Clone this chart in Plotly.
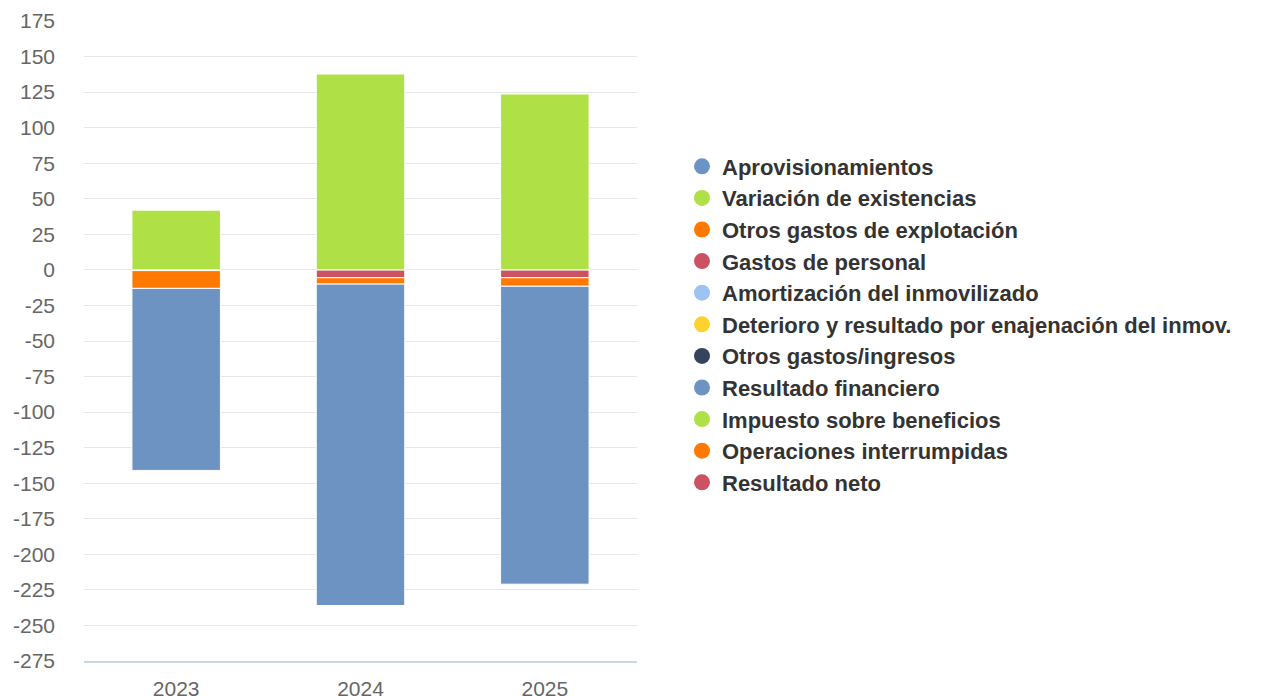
import plotly.graph_objects as go

years = ["2023", "2024", "2025"]

series_names = [
    "Aprovisionamientos",
    "Variación de existencias",
    "Otros gastos de explotación",
    "Gastos de personal",
    "Amortización del inmovilizado",
    "Deterioro y resultado por enajenación del inmov.",
    "Otros gastos/ingresos",
    "Resultado financiero",
    "Impuesto sobre beneficios",
    "Operaciones interrumpidas",
    "Resultado neto",
]

aprovisionamientos = [-128, -226, -209.5]
variacion_existencias = [42, 137.7, 123.7]
otros_gastos_explotacion = [-12.5, -4.5, -6]
gastos_personal = [-0.5, -5.5, -5.5]
amortizacion = [0, 0, 0]
deterioro = [0, 0, 0]
otros_gastos_ingresos = [0, 0, 0]
resultado_financiero = [0, 0, 0]
impuesto = [0, 0, 0]
operaciones_interrumpidas = [0, 0, 0]
resultado_neto = [0, 0, 0]

series_values = [
    aprovisionamientos, variacion_existencias, otros_gastos_explotacion,
    gastos_personal, amortizacion, deterioro, otros_gastos_ingresos,
    resultado_financiero, impuesto, operaciones_interrumpidas, resultado_neto,
]

colors = ["#6c93c2", "#afe045", "#ff7900", "#cc5162", "#9ec3f2", "#fdd22e",
          "#36435e", "#6c93c2", "#afe045", "#ff7900", "#cc5162"]

y_ticks = list(range(-275, 176, 25))
y_labels = [str(v) for v in y_ticks]  # plain hyphen, not the unicode minus

fig = go.Figure()

# highcharts stacks the first series furthest from zero, plotly the other way round
for name, vals, col in reversed(list(zip(series_names, series_values, colors))):
    fig.add_trace(go.Bar(x=years, y=vals, name=name, marker_color=col,
                         marker_line=dict(color="white", width=1),
                         showlegend=False))

# round legend markers
for name, col in zip(series_names, colors):
    fig.add_trace(go.Scatter(x=[None], y=[None], mode="markers", name=name,
                             marker=dict(color=col, size=24, symbol="circle")))

# page body has an 8px margin, so pull everything up/left a bit
L, T, PH, PW = 76, 13, 640, 553
W = 1280 - L
fig.update_layout(
    barmode="relative",
    bargap=0.52,
    width=1280, height=696,
    margin=dict(l=L, r=0, t=T, b=696 - T - PH, autoexpand=False),
    plot_bgcolor="white", paper_bgcolor="white",
    font=dict(family="Liberation Sans, Arial, sans-serif", size=21, color="#666666"),
    legend=dict(x=(674 - L) / W, xanchor="left", y=(T + PH - 316.5) / PH, yanchor="middle",
                font=dict(family="Liberation Sans, Arial, sans-serif", size=22,
                          color="#333333", weight="bold"),
                itemsizing="trace", traceorder="normal"),
    xaxis=dict(domain=[0, PW / W], showline=True, linecolor="#ccd6eb", linewidth=2,
               showgrid=False, ticks="", automargin=False, ticklabelstandoff=8,
               tickfont=dict(size=21, color="#666666")),
    yaxis=dict(range=[-275, 175], tickvals=y_ticks, ticktext=y_labels, showgrid=True,
               gridcolor="#e6e6e6", gridwidth=1, zeroline=False, automargin=False,
               ticklabelstandoff=28, tickfont=dict(size=21, color="#666666")),
)

fig.write_html("out.html")
